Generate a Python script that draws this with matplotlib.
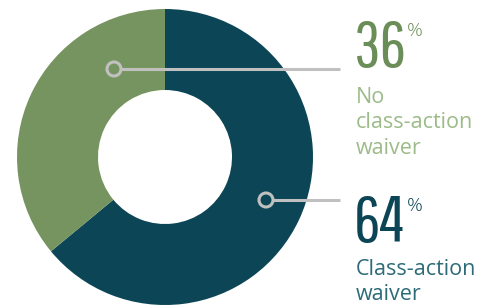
"""
donut chart: class-action waiver share
"""

import matplotlib.pyplot as plt
from matplotlib.patches import Circle

# --------------------------------
#       DATA
# --------------------------------
segments = ["Class-action waiver", "No class-action waiver"]
shares = [64, 36]
labels = [["Class-action", "waiver"], ["No", "class-action", "waiver"]]

ring_colors = ["#0b4556", "#769460"]
number_colors = ["#0b4556", "#6b8e58"]
label_colors = ["#2d6b78", "#9cbb88"]

W, H = 487, 308
cx, cy = 165, H - 157
r_out, r_in = 148, 67

fig = plt.figure(figsize=(W / 100, H / 100), dpi=100)
ax = fig.add_axes([0, 0, 1, 1])

ax.pie(
    shares,
    colors=ring_colors,
    startangle=90,
    counterclock=False,
    center=(cx, cy),
    radius=r_out,
    wedgeprops={"width": r_out - r_in, "linewidth": 0},
    frame=True,
)
ax.set_xlim(0, W)
ax.set_ylim(0, H)
ax.set_aspect("equal")
ax.axis("off")

# callout layout in pixels from top: (marker x, line y, number baseline, first label baseline)
callouts = [
    (266, 200, 242, 275),  # 64%
    (114, 69, 67, 103),  # 36%
]

num_font = ["Pathway Gothic One", "Oswald", "DejaVu Sans"]
txt_font = ["Open Sans", "DejaVu Sans"]
line_c = "#c0c0c0"

for i, (mx, ly, nb, lb) in enumerate(callouts):
    ax.plot([mx + 7, 340], [H - ly, H - ly], color=line_c, lw=2.2, solid_capstyle="butt")
    ax.add_patch(Circle((mx, H - ly), 7, fc="none", ec=line_c, lw=2.2))
    ax.text(
        354, H - nb, str(shares[i]), color=number_colors[i], fontsize=47,
        family=num_font, va="baseline", ha="left",
    )
    ax.text(
        407, H - nb + 31, "%", color=number_colors[i], fontsize=14, fontweight="light",
        family=txt_font, va="baseline", ha="left",
    )
    for k, line in enumerate(labels[i]):
        ax.text(
            356, H - lb - 25.5 * k, line, color=label_colors[i], fontsize=15.5,
            family=txt_font, va="baseline", ha="left",
        )

fig.savefig("out.png", dpi=100)
